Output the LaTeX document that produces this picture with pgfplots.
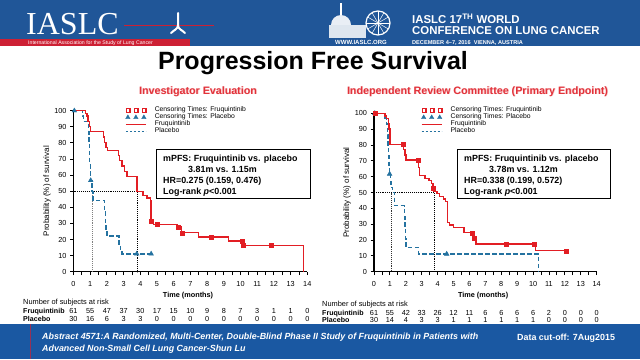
\documentclass[border=0pt]{standalone}
\usepackage{pgfplots}
\pgfplotsset{compat=1.18}
\usepackage{fontspec}
\setmainfont{Liberation Sans}
\newfontfamily\serifont{Liberation Serif}
\definecolor{kmred}{RGB}{226,30,36}
\definecolor{kmblue}{RGB}{36,114,160}
\definecolor{hdrblue}{RGB}{32,86,152}
\definecolor{ftrblue}{RGB}{26,88,162}
\definecolor{stripred}{RGB}{205,32,52}
\definecolor{subred}{RGB}{226,50,58}
\definecolor{subshadow}{RGB}{246,196,198}
\newcommand{\fs}[1]{\fontsize{#1bp}{#1bp}\selectfont}
\pgfplotsset{
 km/.style={
  scale only axis, clip=false,
  xmin=0, xmax=14, ymin=0, ymax=100,
  axis x line*=bottom, axis y line*=left,
  xtick={0,1,...,14}, ytick={0,10,...,100},
  minor x tick num=1,
  tick align=outside,
  major tick length=3.5bp, minor tick length=3.5bp,
  axis line style={line width=1.3bp, black},
  tick style={black, line width=0.9bp},
  /pgf/number format/assume math mode=true,
  tick label style={font=\fs{7.3}},
  xticklabel style={yshift=-2.5bp},
  legend cell align=left,
  legend style={draw=none, fill=none, inner sep=0pt, row sep=0pt, font=\fs{6.8},
     nodes={inner sep=0.4bp, text height=4.9bp, text depth=1.4bp},
     /tikz/every odd column/.append style={column sep=8bp}},
 },
 sq/.style={legend image code/.code={
   \fill[kmred] (-2bp,-2bp) rectangle (2bp,2bp); \fill[white] (-0.8bp,-0.8bp) rectangle (0.8bp,0.8bp);
   \fill[kmred] (6bp,-2bp) rectangle (10bp,2bp); \fill[white] (7.2bp,-0.8bp) rectangle (8.8bp,0.8bp);
   \fill[kmred] (14bp,-2bp) rectangle (18bp,2bp); \fill[white] (15.2bp,-0.8bp) rectangle (16.8bp,0.8bp);}},
 tr/.style={legend image code/.code={
   \fill[kmblue] (-2.2bp,-1.7bp) -- (2.2bp,-1.7bp) -- (0bp,2.2bp) -- cycle;
   \fill[kmblue] (5.8bp,-1.7bp) -- (10.2bp,-1.7bp) -- (8bp,2.2bp) -- cycle;
   \fill[kmblue] (13.8bp,-1.7bp) -- (18.2bp,-1.7bp) -- (16bp,2.2bp) -- cycle;}},
 rl/.style={legend image code/.code={\draw[kmred,line width=1bp] (-2bp,0bp) -- (18bp,0bp);}},
 bl/.style={legend image code/.code={\draw[kmblue,line width=1bp,dash pattern=on 2.5bp off 1.5bp] (-2bp,0bp) -- (18bp,0bp);}},
 fruq/.style={kmred, line width=1.4bp, const plot, forget plot},
 plac/.style={kmblue, line width=1.4bp, const plot, dash pattern=on 4.5bp off 2.5bp, forget plot},
 cens1/.style={only marks, mark=square*, mark size=2bp, kmred, forget plot},
 cens2/.style={only marks, mark=triangle*, mark size=2.7bp, kmblue, forget plot},
}
\begin{document}
\begin{tikzpicture}[x=1bp,y=1bp]
\useasboundingbox (0,0) rectangle (640,359);
\fill[white] (0,0) rectangle (640,359);
% ---------------- header
\fill[hdrblue] (0,313) rectangle (640,359);
\fill[stripred] (0,313) rectangle (190,320.5);
\node[anchor=base west,inner sep=0,white,font=\fs{5.2}] at (28,314.6) {International Association for the Study of Lung Cancer};
\node[anchor=base west,inner sep=0,text depth=0pt,white,font=\serifont\fs{32}] at (26,325) {IASLC};
\draw[stripred,line width=1bp] (124,333)--(214,333);
\draw[white,line width=2bp,line cap=round] (178,346)--(178,334) (178,334) to[out=-90,in=45] (171,326) (178,334) to[out=-90,in=135] (185,326);
\fill[white!85!hdrblue] (329,321) rectangle (366,334);
\fill[white!90!hdrblue] (331,334) arc[start angle=180,end angle=0,radius=10];
\draw[white,line width=1.2bp] (341,344)--(341,356);
\draw[white,line width=1.2bp] (378,336) circle[radius=12];
\foreach \a in {0,30,...,150} \draw[white,line width=0.5bp] (378,336) ++(\a:12) -- ++(\a+180:24);
\node[anchor=base west,inner sep=0,white,font=\bfseries\fs{6}] at (335,315) {WWW.IASLC.ORG};
\node[anchor=base west,inner sep=0,white,font=\bfseries\fs{11.4}] at (412,336) {IASLC 17\textsuperscript{TH} WORLD};
\node[anchor=base west,inner sep=0,white,font=\bfseries\fs{11.4}] at (412,325) {CONFERENCE ON LUNG CANCER};
\node[anchor=base west,inner sep=0,white,font=\bfseries\fs{5.6}] at (412,315) {DECEMBER 4--7, 2016 \ VIENNA, AUSTRIA};
% ---------------- titles
\node[anchor=base,inner sep=0,font=\bfseries\fs{25}] at (313,289.5) {Progression Free Survival};
\node[anchor=base,inner sep=0,font=\bfseries\fs{10.7},text=subshadow] at (198.8,264.2) {Investigator Evaluation};
\node[anchor=base,inner sep=0,font=\bfseries\fs{10.7},text=subred] at (198,265) {Investigator Evaluation};
\node[anchor=base,inner sep=0,font=\bfseries\fs{10.7},text=subshadow] at (478.3,264.2) {Independent Review Committee (Primary Endpoint)};
\node[anchor=base,inner sep=0,font=\bfseries\fs{10.7},text=subred] at (477.5,265) {Independent Review Committee (Primary Endpoint)};
% ---------------- left KM
\begin{axis}[km, at={(73.5bp,87.3bp)}, anchor=south west, width=233.8bp, height=161bp,
  xlabel={\bfseries Time (months)}, ylabel={Probability (\%) of survival},
  every axis x label/.style={at={(axis description cs:0.49,-0.149)}, anchor=center, font=\fs{7.3}},
  every axis y label/.style={at={(axis description cs:-0.113,0.5)}, anchor=center, rotate=90, font=\fs{8}},
  legend style={at={(axis description cs:0.221,1.028)}, anchor=north west}]
\addlegendimage{sq}\addlegendentry{Censoring Times: Fruquintinib}
\addlegendimage{tr}\addlegendentry{Censoring Times: Placebo}
\addlegendimage{rl}\addlegendentry{Fruquintinib}
\addlegendimage{bl}\addlegendentry{Placebo}
\addplot[black, densely dotted, line width=0.9bp, forget plot] coordinates {(0,50) (3.81,50) (3.81,0)};
\addplot[gray, densely dotted, line width=0.9bp, forget plot] coordinates {(1.15,50) (1.15,0)};
\addplot[plac] coordinates {(0,100)(0.55,96.7)(0.6,93.3)(0.9,86.7)(0.93,80)(0.95,73.3)(0.97,66.7)(1.0,60)(1.02,56.7)(1.1,50.0)(1.17,44.4)(1.85,37.0)(1.9,29.6)(1.95,25.9)(2.0,22.2)(2.73,16.7)(2.8,13.9)(2.9,11.1)(4.65,11.1)};
\addplot[fruq] coordinates {(0,100)(0.72,98.4)(0.8,96.7)(0.88,93.4)(0.95,90.2)(1.0,86.9)(1.78,83.6)(1.86,80.3)(1.95,77.0)(2.02,75.4)(2.7,72.1)(2.76,68.9)(2.9,65.6)(3.05,62.3)(3.2,59.0)(3.81,50.0)(4.15,47.5)(4.4,45.9)(4.6,44.3)(4.65,31.1)(4.78,29.5)(6.2,27.9)(6.45,24.2)(7.5,21.6)(9.28,19.0)(10.1,16.2)(13.78,0)};
\addplot[cens2] coordinates {(0.05,100)(1.03,56.7)(3.79,11.1)(4.65,11.1)};
\addplot[cens1] coordinates {(4.65,31.1)(5.03,29.5)(6.29,27.9)(6.49,24.2)(8.23,21.6)(10.08,19.0)(10.19,16.2)(11.85,16.2)};
\end{axis}
% ---------------- right KM
\begin{axis}[km, at={(374bp,87.3bp)}, anchor=south west, width=222.7bp, height=158.4bp,
  xlabel={\bfseries Time (months)}, ylabel={Probability (\%) of survival},
  every axis x label/.style={at={(axis description cs:0.49,-0.153)}, anchor=center, font=\fs{7.3}},
  every axis y label/.style={at={(axis description cs:-0.121,0.5)}, anchor=center, rotate=90, font=\fs{8}},
  legend style={at={(axis description cs:0.211,1.045)}, anchor=north west}]
\addlegendimage{sq}\addlegendentry{Censoring Times: Fruquintinib}
\addlegendimage{tr}\addlegendentry{Censoring Times: Placebo}
\addlegendimage{rl}\addlegendentry{Fruquintinib}
\addlegendimage{bl}\addlegendentry{Placebo}
\addplot[black, densely dotted, line width=0.9bp, forget plot] coordinates {(0,50) (3.78,50) (3.78,0)};
\addplot[black!80, densely dotted, line width=0.9bp, forget plot] coordinates {(1.12,50) (1.12,0)};
\addplot[plac] coordinates {(0,100)(0.69,96.7)(0.8,93.3)(0.85,86.7)(0.88,80)(0.9,73.3)(0.93,66.7)(0.97,61.7)(1.03,56.7)(1.07,53.3)(1.17,50)(1.3,41.7)(1.92,35)(1.95,28)(1.98,21)(2.01,15.3)(2.79,11.2)(10.34,0)};
\addplot[fruq] coordinates {(0,100)(0.7,98.4)(0.8,96.7)(0.9,93.4)(0.95,90.2)(1.0,80.3)(1.85,77.0)(1.95,73.8)(2.0,70.5)(2.8,65.6)(2.86,60.7)(3.2,59.0)(3.45,57.4)(3.62,55.7)(3.72,52.5)(3.78,50.8)(3.95,49.2)(4.1,47.5)(4.35,45.9)(4.5,44.3)(4.62,31.1)(4.75,29.5)(5.0,27.9)(5.65,24.6)(6.2,21.3)(6.4,17.5)(10.15,13.2)(12.06,13.2)};
\addplot[cens2] coordinates {(0.05,100)(0.98,61.7)(4.57,11.2)};
\addplot[cens1] coordinates {(0.05,100)(1.82,80.3)(2.75,70.5)(3.74,52.5)(6.15,24.6)(6.32,21.3)(8.3,17.5)(10.1,17.5)(12.06,13.2)};
\end{axis}
% ---------------- text boxes
\draw[line width=0.8bp, fill=white] (156,210) rectangle (310,160.7);
\begin{scope}[every node/.style={anchor=base west, inner sep=0, font=\bfseries\fs{8.9}}]
\node at (163,197.2) {mPFS: Fruquintinib vs. placebo};
\node at (188,186.4) {3.81m vs. 1.15m};
\node at (163,175.6) {HR=0.275 (0.159, 0.476)};
\node at (163,164.8) {Log-rank \textit{p}<0.001};
\end{scope}
\draw[line width=0.8bp, fill=white] (457,210) rectangle (610,160.7);
\begin{scope}[every node/.style={anchor=base west, inner sep=0, font=\bfseries\fs{8.9}}]
\node at (464,197.2) {mPFS: Fruquintinib vs. placebo};
\node at (489,186.4) {3.78m vs. 1.12m};
\node at (464,175.6) {HR=0.338 (0.199, 0.572)};
\node at (464,164.8) {Log-rank \textit{p}<0.001};
\end{scope}
% ---------------- numbers at risk
\node[anchor=base west,inner sep=0,font=\fs{7.4}] at (23,54.3) {Number of subjects at risk};
\node[anchor=base west,inner sep=0,font=\bfseries\fs{7.1}] at (23,46) {Fruquintinib};
\node[anchor=base west,inner sep=0,font=\bfseries\fs{7.1}] at (23,38) {Placebo};
\foreach \v [count=\i from 0] in {61,55,47,37,30,17,15,10,9,8,7,3,1,1,0}
  \node[anchor=base,inner sep=0,font=\fs{7.3}] at ({73.5+16.7*\i},46) {\v};
\foreach \v [count=\i from 0] in {30,16,6,3,3,0,0,0,0,0,0,0,0,0,0}
  \node[anchor=base,inner sep=0,font=\fs{7.3}] at ({73.5+16.7*\i},38) {\v};
\node[anchor=base west,inner sep=0,font=\fs{7.4}] at (322,52.3) {Number of subjects at risk};
\node[anchor=base west,inner sep=0,font=\bfseries\fs{7.1}] at (322,44) {Fruquintinib};
\node[anchor=base west,inner sep=0,font=\bfseries\fs{7.1}] at (322,36.3) {Placebo};
\foreach \v [count=\i from 0] in {61,55,42,33,26,12,11,6,6,6,6,2,0,0,0}
  \node[anchor=base,inner sep=0,font=\fs{7.3}] at ({374+15.91*\i},44) {\v};
\foreach \v [count=\i from 0] in {30,14,4,3,3,1,1,1,1,1,1,0,0,0,0}
  \node[anchor=base,inner sep=0,font=\fs{7.3}] at ({374+15.91*\i},36.3) {\v};
% ---------------- footer
\fill[ftrblue] (0,0) rectangle (640,34.7);
\draw[stripred!70!ftrblue,line width=0.8bp] (30,0)--(30,34.7);
\node[anchor=base west,inner sep=0,white,font=\bfseries\itshape\fs{8.9}] at (42,19.1) {Abstract 4571:A Randomized, Multi-Center, Double-Blind Phase II Study of Fruquintinib in Patients with};
\node[anchor=base west,inner sep=0,white,font=\bfseries\itshape\fs{8.9}] at (42,7.5) {Advanced Non-Small Cell Lung Cancer-Shun Lu};
\node[anchor=base west,inner sep=0,white,font=\bfseries\fs{8.9}] at (517,18.5) {Data cut-off: 7Aug2015};
\end{tikzpicture}
\end{document}
